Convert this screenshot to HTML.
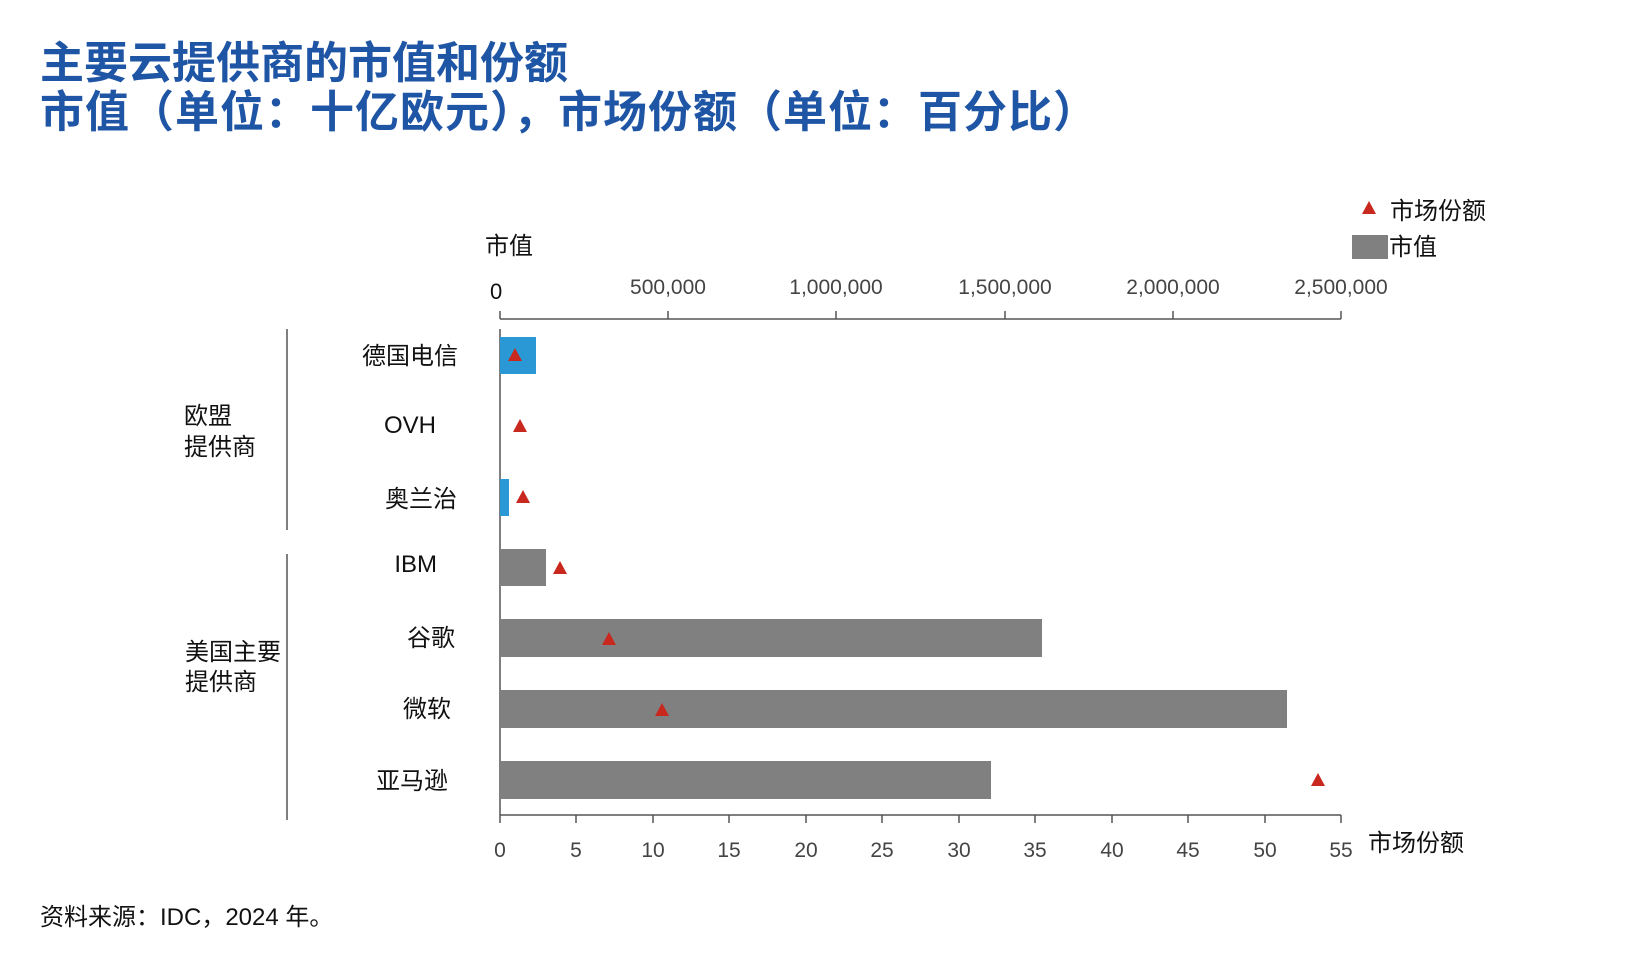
<!DOCTYPE html>
<html><head><meta charset="utf-8"><style>
body{margin:0;width:1636px;height:954px;background:#fff;overflow:hidden;font-family:"Liberation Sans","Noto Sans CJK SC",sans-serif}
</style></head><body>
<svg width="1636" height="954" xmlns="http://www.w3.org/2000/svg" font-family="Liberation Sans, Noto Sans CJK SC, sans-serif">
<g fill="#1f55a5" font-size="44" font-weight="bold">
<text x="40" y="78">主要云提供商的市值和份额</text>
<text x="40" y="127" letter-spacing="1">市值（单位：十亿欧元），市场份额（单位：百分比）</text>
</g>
<!-- legend -->
<polygon points="1369,201 1362,214 1376,214" fill="#c8281e"/>
<text x="1390" y="219" font-size="24" fill="#111">市场份额</text>
<rect x="1352" y="235" width="36" height="24" fill="#808080"/>
<text x="1389" y="255" font-size="24" fill="#111">市值</text>
<!-- top axis -->
<text x="485" y="254" font-size="24" fill="#111">市值</text>
<text x="490" y="299" font-size="22" fill="#111">0</text>
<g font-size="21" fill="#444" text-anchor="middle">
<text x="668" y="294">500,000</text><text x="836" y="294">1,000,000</text><text x="1005" y="294">1,500,000</text><text x="1173" y="294">2,000,000</text><text x="1341" y="294">2,500,000</text>
</g>
<g stroke="#555" stroke-width="1.5">
<line x1="500" y1="319" x2="1341" y2="319"/>
<line x1="500" y1="311" x2="500" y2="319"/><line x1="668" y1="311" x2="668" y2="319"/><line x1="836" y1="311" x2="836" y2="319"/><line x1="1005" y1="311" x2="1005" y2="319"/><line x1="1173" y1="311" x2="1173" y2="319"/><line x1="1341" y1="311" x2="1341" y2="319"/>
<line x1="500" y1="329" x2="500" y2="815"/>
<line x1="500" y1="815" x2="1341" y2="815"/>
<line x1="287" y1="329" x2="287" y2="530"/>
<line x1="287" y1="554" x2="287" y2="820"/>
</g>
<g stroke="#555" stroke-width="1.5">
<line x1="500" y1="815" x2="500" y2="823"/><line x1="576" y1="815" x2="576" y2="823"/><line x1="653" y1="815" x2="653" y2="823"/><line x1="729" y1="815" x2="729" y2="823"/><line x1="806" y1="815" x2="806" y2="823"/><line x1="882" y1="815" x2="882" y2="823"/><line x1="959" y1="815" x2="959" y2="823"/><line x1="1035" y1="815" x2="1035" y2="823"/><line x1="1112" y1="815" x2="1112" y2="823"/><line x1="1188" y1="815" x2="1188" y2="823"/><line x1="1265" y1="815" x2="1265" y2="823"/><line x1="1341" y1="815" x2="1341" y2="823"/>
</g>
<g font-size="21" fill="#444" text-anchor="middle">
<text x="500" y="857">0</text><text x="576" y="857">5</text><text x="653" y="857">10</text><text x="729" y="857">15</text><text x="806" y="857">20</text><text x="882" y="857">25</text><text x="959" y="857">30</text><text x="1035" y="857">35</text><text x="1112" y="857">40</text><text x="1188" y="857">45</text><text x="1265" y="857">50</text><text x="1341" y="857">55</text>
</g>
<text x="1368" y="851" font-size="24" fill="#111">市场份额</text>
<!-- bars -->
<rect x="500" y="337" width="36" height="37" fill="#2a98d4"/>
<rect x="500" y="479" width="9" height="37" fill="#2a98d4"/>
<rect x="500" y="549" width="46" height="37" fill="#808080"/>
<rect x="500" y="619" width="542" height="38" fill="#808080"/>
<rect x="500" y="690" width="787" height="38" fill="#808080"/>
<rect x="500" y="761" width="491" height="38" fill="#808080"/>
<g fill="#c8281e">
<polygon points="515,348 508,361 522,361"/>
<polygon points="520,419 513,432 527,432"/>
<polygon points="523,490 516,503 530,503"/>
<polygon points="560,561 553,574 567,574"/>
<polygon points="609,632 602,645 616,645"/>
<polygon points="662,703 655,716 669,716"/>
<polygon points="1318,773 1311,786 1325,786"/>
</g>
<!-- category labels -->
<g font-size="24" fill="#111" text-anchor="end">
<text x="458" y="364">德国电信</text>
<text x="436" y="433">OVH</text>
<text x="457" y="507">奥兰治</text>
<text x="437" y="572">IBM</text>
<text x="455" y="646">谷歌</text>
<text x="451" y="717">微软</text>
<text x="448" y="789">亚马逊</text>
</g>
<g font-size="24" fill="#111">
<text x="184" y="424">欧盟</text>
<text x="184" y="455">提供商</text>
<text x="185" y="660">美国主要</text>
<text x="185" y="690">提供商</text>
</g>
<text x="40" y="925" font-size="24" fill="#111">资料来源：IDC，2024 年。</text>
</svg>
</body></html>
